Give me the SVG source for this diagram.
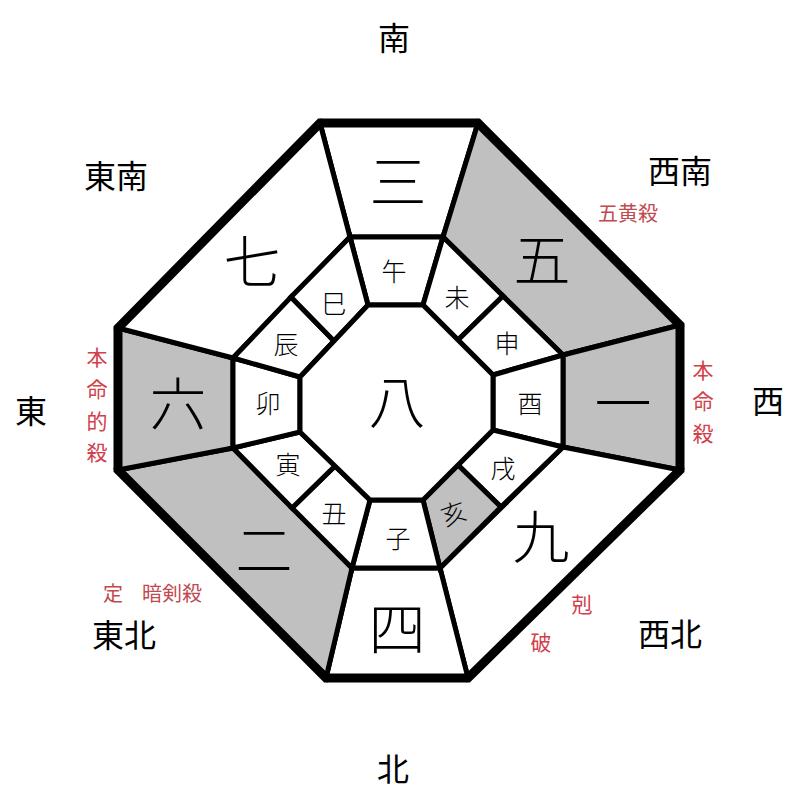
<svg xmlns="http://www.w3.org/2000/svg" width="800" height="800" viewBox="0 0 800 800">
<style>
text{font-family:"Noto Sans CJK JP","Noto Sans CJK SC",sans-serif;text-anchor:middle;dominant-baseline:central;fill:#000;font-weight:300}
.dir{font-size:32px;font-weight:400}
.big{font-size:57px}
.sm{font-size:25px}
.red{font-size:21px;fill:#d2404a;font-weight:400}
.red2{font-size:20px;fill:#c04a50;font-weight:400}
.cell{stroke:#000;stroke-width:5;stroke-linejoin:miter}
.w{fill:#fff}
.g{fill:#c0c0c0}
</style>
<rect width="800" height="800" fill="#fff"/>
<g id="sector-south"><polygon class="cell w" points="320,123 478,123 443,237 350,237"/><text class="big" x="398" y="178">三</text></g>
<g id="sector-southwest"><polygon class="cell g" points="478,123 680,325 563,355 443,237"/><text class="big" x="542" y="256">五</text></g>
<g id="sector-west"><polygon class="cell g" points="680,325 680,470 563,447 563,355"/><text class="big" x="623" y="400">一</text></g>
<g id="sector-northwest"><polygon class="cell w" points="680,470 468,678 440,568 563,447"/><text class="big" x="541" y="533">九</text></g>
<g id="sector-north"><polygon class="cell w" points="468,678 326,678 352,568 440,568"/><text class="big" x="397" y="625">四</text></g>
<g id="sector-northeast"><polygon class="cell g" points="326,678 118,470 233,448 352,568"/><text class="big" x="264" y="546">二</text></g>
<g id="sector-east"><polygon class="cell g" points="118,470 118,328 233,358 233,448"/><text class="big" x="178" y="400">六</text></g>
<g id="sector-southeast"><polygon class="cell w" points="118,328 320,123 350,237 233,358"/><text class="big" x="252" y="258">七</text></g>

<g id="cell-uma"><polygon class="cell w" points="350,237 443,237 423,305 368,305"/><text class="sm" x="394" y="270">午</text></g>
<g id="cell-hitsuji"><polygon class="cell w" points="443,237 503,296 458,340 423,305"/><text class="sm" x="457" y="296">未</text></g>
<g id="cell-saru"><polygon class="cell w" points="503,296 563,355 493,375 458,340"/><text class="sm" x="507" y="342">申</text></g>
<g id="cell-tori"><polygon class="cell w" points="563,355 563,447 493,430 493,375"/><text class="sm" x="530" y="402">酉</text></g>
<g id="cell-inu"><polygon class="cell w" points="563,447 501,507 458,465 493,430"/><text class="sm" x="503" y="467">戌</text></g>
<g id="cell-i"><polygon class="cell g" points="501,507 440,568 423,500 458,465"/><text class="sm" x="453" y="512" transform="rotate(-20 453 512)">亥</text></g>
<g id="cell-ne"><polygon class="cell w" points="440,568 352,568 370,500 423,500"/><text class="sm" x="398" y="537">子</text></g>
<g id="cell-ushi"><polygon class="cell w" points="352,568 292,508 335,466 370,500"/><text class="sm" x="334" y="512">丑</text></g>
<g id="cell-tora"><polygon class="cell w" points="292,508 233,448 300,432 335,466"/><text class="sm" x="288" y="463">寅</text></g>
<g id="cell-u"><polygon class="cell w" points="233,448 233,358 300,377 300,432"/><text class="sm" x="268" y="402">卯</text></g>
<g id="cell-tatsu"><polygon class="cell w" points="233,358 291,297 334,341 300,377"/><text class="sm" x="286" y="343">辰</text></g>
<g id="cell-mi"><polygon class="cell w" points="291,297 350,237 368,305 334,341"/><text class="sm" x="334" y="302">巳</text></g>

<g id="center"><polygon class="cell w" points="368,305 423,305 493,375 493,430 423,500 370,500 300,432 300,377"/><text class="big" x="397" y="398">八</text></g>

<g id="outline"><polygon points="320,123 478,123 680,325 680,470 468,678 326,678 118,470 118,328" fill="none" stroke="#000" stroke-width="9" stroke-linejoin="miter"/></g>

<g id="directions">
<text class="dir" x="394" y="36">南</text>
<text class="dir" x="116" y="174">東南</text>
<text class="dir" x="680" y="169">西南</text>
<text class="dir" x="31" y="409">東</text>
<text class="dir" x="768" y="399">西</text>
<text class="dir" x="124" y="633">東北</text>
<text class="dir" x="670" y="632">西北</text>
<text class="dir" x="393" y="767">北</text>
</g>
<g id="labels">
<text class="red2" x="628" y="212">五黄殺</text>
<text class="red" x="703" y="369">本</text>
<text class="red" x="703" y="400">命</text>
<text class="red" x="703" y="432">殺</text>
<text class="red" x="97" y="356">本</text>
<text class="red" x="97" y="388">命</text>
<text class="red" x="97" y="420">的</text>
<text class="red" x="97" y="451">殺</text>
<text class="red2" x="113" y="592">定</text>
<text class="red2" x="172" y="592">暗剣殺</text>
<text class="red" x="582" y="603">剋</text>
<text class="red" x="541" y="641">破</text>
</g>
</svg>
